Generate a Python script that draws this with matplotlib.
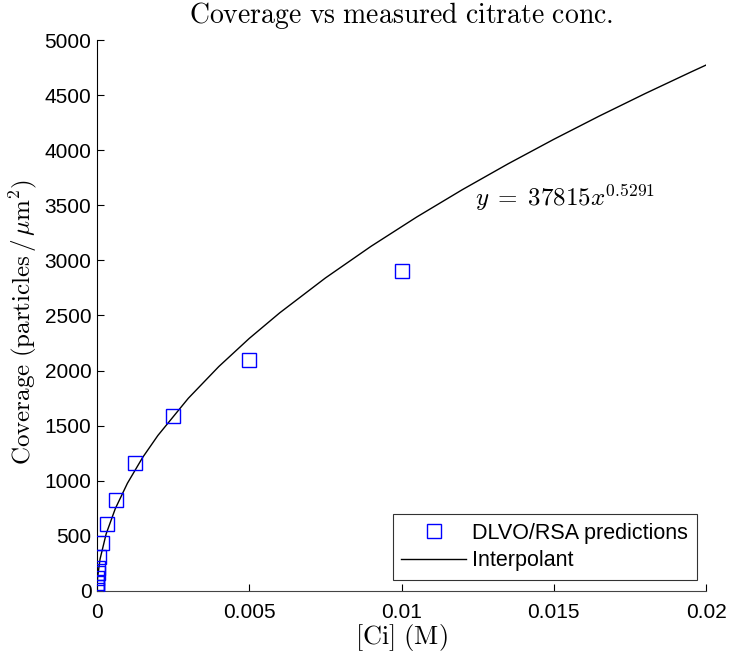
import numpy as np
import matplotlib
matplotlib.use("Agg")
import matplotlib.pyplot as plt

plt.rcParams['mathtext.fontset'] = 'cm'
plt.rcParams['font.family'] = ['Liberation Sans', 'DejaVu Sans']

# DLVO/RSA predicted coverage vs citrate concentration
conc = [0.01, 0.005, 0.0025, 0.00125, 0.000625, 0.0003125, 0.00015625,
        0.000078, 0.000039, 0.0000195, 0.0000098, 0.0000049, 0.0000024, 0.0000012]
coverage = [2900, 2100, 1590, 1160, 830, 610, 440, 305, 205, 160, 115, 72, 38, 12]

# fitted power law  y = a x^b
fit_a = 37815
fit_b = 0.5291
fit_x = [0.0, 0.00002, 0.0001, 0.0003, 0.0006, 0.001, 0.0015, 0.002, 0.003,
         0.004, 0.005, 0.006, 0.0075, 0.009, 0.0105, 0.012, 0.0135, 0.015,
         0.0165, 0.018, 0.0195, 0.02]

xticks = [0, 0.005, 0.01, 0.015, 0.02]
yticks = list(range(0, 5001, 500))

fig = plt.figure(figsize=(7.32, 6.59), dpi=100)
ax = fig.add_axes([0.1325, 0.1032, 0.832, 0.8361])

fx = np.array(fit_x)
ax.plot(fx, fit_a * fx ** fit_b, color='black', lw=1.0, label='Interpolant', zorder=2)
ax.plot(conc, coverage, 's', mfc='none', mec='#0000ff', ms=9.5, mew=1.0,
        label='DLVO/RSA predictions', zorder=3)

ax.set_xlim(0, 0.02)
ax.set_ylim(0, 5000)
ax.set_xticks(xticks)
ax.set_xticklabels(['0', '0.005', '0.01', '0.015', '0.02'])
ax.set_yticks(yticks)
ax.tick_params(direction='in', length=5, labelsize=15, width=0.8)
ax.tick_params(axis='x', pad=9)
ax.tick_params(axis='y', pad=4)
for s in ['top', 'right']:
    ax.spines[s].set_visible(False)
ax.spines['bottom'].set_color('#444444')

ax.text(0.0124, 3500, r'$y\;=\;37815x^{0.5291}$', fontsize=18, va='baseline')

ax.set_title(r'$\mathrm{Coverage\ vs\ measured\ citrate\ conc.}$', fontsize=20, pad=12)
ax.set_xlabel(r'$\mathrm{[Ci]\ (M)}$', fontsize=19, labelpad=0)
ax.set_ylabel(r'$\mathrm{Coverage\ (particles\,/\,}\mu\mathrm{m}^2)$', fontsize=18)
ax.yaxis.set_label_coords(-0.095, 0.488)

h, l = ax.get_legend_handles_labels()
leg = ax.legend(h[::-1], l[::-1], loc='lower right', fontsize=15.5, frameon=True,
                fancybox=False, edgecolor='black', bbox_to_anchor=(0.985, 0.02),
                handlelength=3.0, handletextpad=0.3, borderpad=0.4,
                labelspacing=0.3, borderaxespad=0.0)
leg.get_frame().set_linewidth(0.8)

fig.savefig('out.png', dpi=100)
